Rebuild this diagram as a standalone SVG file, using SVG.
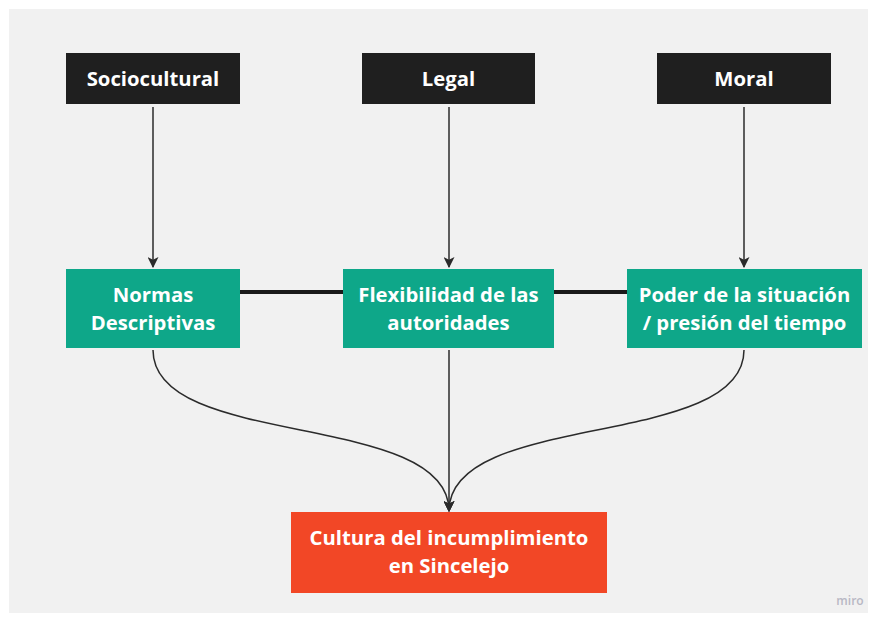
<svg xmlns="http://www.w3.org/2000/svg" width="872" height="619" viewBox="0 0 872 619">
<defs>
<style>
.t{font-family:"Open Sans","Noto Sans",sans-serif;font-weight:700;font-size:20.3px;fill:#ffffff;text-anchor:middle}
.blk{fill:#1f1f1f}
.grn{fill:#0ea789}
.red{fill:#f24726}
.c{fill:none;stroke:#2b2b2b;stroke-width:1.5}
.bar{stroke:#1a1a1a;stroke-width:4}
</style>
<marker id="ah" viewBox="0 0 10 10" refX="9" refY="5" markerWidth="11" markerHeight="11" markerUnits="userSpaceOnUse" orient="auto">
<path d="M0 0 L10 5 L0 10 L2.5 5 Z" fill="#2b2b2b"/>
</marker>
</defs>
<rect x="0" y="0" width="872" height="619" fill="#ffffff"/>
<rect x="9" y="9" width="859" height="604" fill="#f1f1f1"/>
<g id="connectors">
<line class="bar" x1="240" y1="292" x2="343" y2="292"/>
<line class="bar" x1="554" y1="292" x2="627" y2="292"/>
<line class="c" x1="153" y1="107" x2="153" y2="267" marker-end="url(#ah)"/>
<line class="c" x1="449" y1="107" x2="449" y2="267" marker-end="url(#ah)"/>
<line class="c" x1="744" y1="107" x2="744" y2="267" marker-end="url(#ah)"/>
<path class="c" d="M153 350 C153 450 449 410 449 511" marker-end="url(#ah)"/>
<path class="c" d="M744 350 C744 450 449 410 449 511" marker-end="url(#ah)"/>
<line class="c" x1="449" y1="350" x2="449" y2="511" marker-end="url(#ah)"/>
</g>
<g id="sociocultural"><rect class="blk" x="66" y="53" width="174" height="51"/><text class="t" x="153" y="85.5">Sociocultural</text></g>
<g id="legal"><rect class="blk" x="362" y="53" width="173" height="51"/><text class="t" x="448.5" y="85.5">Legal</text></g>
<g id="moral"><rect class="blk" x="657" y="53" width="174" height="51"/><text class="t" x="744" y="85.5">Moral</text></g>
<g id="normas"><rect class="grn" x="66" y="269" width="174" height="79"/><text class="t" x="153" y="302">Normas</text><text class="t" x="153" y="330">Descriptivas</text></g>
<g id="flexibilidad"><rect class="grn" x="343" y="269" width="211" height="79"/><text class="t" x="448.5" y="302">Flexibilidad de las</text><text class="t" x="448.5" y="330">autoridades</text></g>
<g id="poder"><rect class="grn" x="627" y="269" width="235" height="79"/><text class="t" x="744.5" y="302">Poder de la situación</text><text class="t" x="744.5" y="330">/ presión del tiempo</text></g>
<g id="cultura"><rect class="red" x="291" y="512" width="316" height="81"/><text class="t" x="449" y="545">Cultura del incumplimiento</text><text class="t" x="449" y="573">en Sincelejo</text></g>
<text x="850" y="605" style="font-family:'Open Sans',sans-serif;font-weight:600;font-size:12px;fill:#b8b8c4;text-anchor:middle">miro</text>
</svg>
